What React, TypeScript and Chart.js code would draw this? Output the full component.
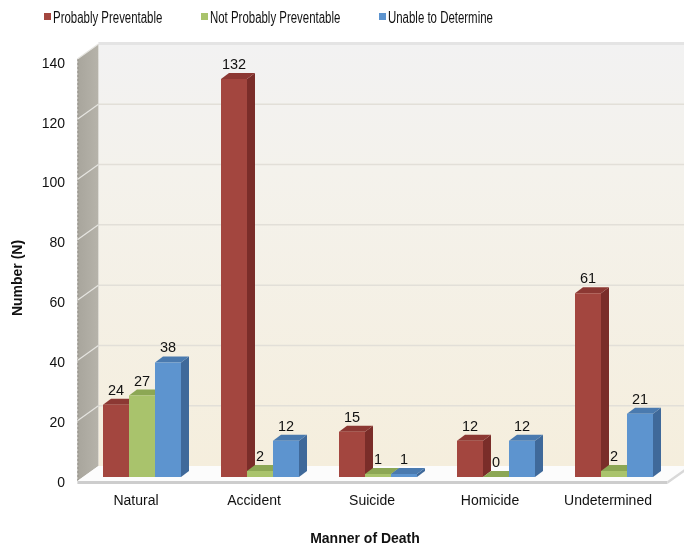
import React, { useEffect, useRef } from "react";
import { Chart, registerables } from "chart.js";

Chart.register(...registerables);

// Manner of death categories and counts per preventability group
const categories = ["Natural", "Accident", "Suicide", "Homicide", "Undetermined"];
const probablyPreventable = [24, 132, 15, 12, 61];
const notProbablyPreventable = [27, 2, 1, 0, 2];
const unableToDetermine = [38, 12, 1, 12, 21];
const yTicks = [0, 20, 40, 60, 80, 100, 120, 140];
const seriesNames = ["Probably Preventable", "Not Probably Preventable", "Unable to Determine"];

const FONT = '"Liberation Sans", Arial, sans-serif';

// face colours: front, side, top
const palette = [
  { front: "#a3463f", side: "#7a2d29", top: "#8c3833" },
  { front: "#a9c36c", side: "#86a04b", top: "#8ca754" },
  { front: "#5d94cf", side: "#3f699a", top: "#4a7aaf" },
];

// projection offsets relative to the plane where bar fronts sit
const DEPTH = { dx: 8, dy: -6 };
const FRONT = { dx: -5.6, dy: 4 };
const BACK = { dx: 15.4, dy: -11 };

const poly = (ctx: CanvasRenderingContext2D, pts: number[][], fill: string | CanvasGradient) => {
  ctx.beginPath();
  ctx.moveTo(pts[0][0], pts[0][1]);
  for (let i = 1; i < pts.length; i++) ctx.lineTo(pts[i][0], pts[i][1]);
  ctx.closePath();
  ctx.fillStyle = fill;
  ctx.fill();
};

const scene3d = {
  id: "scene3d",
  beforeDatasetsDraw(chart: any) {
    const ctx: CanvasRenderingContext2D = chart.ctx;
    const area = chart.chartArea;
    const yS = chart.scales.y;
    const W = chart.width;
    const yTop = yS.getPixelForValue(140);
    const y0 = yS.getPixelForValue(0);
    const L = area.left;
    const R = area.right;

    ctx.save();

    // back wall
    const bwTop = yTop + BACK.dy;
    const bwBot = y0 + BACK.dy;
    const g = ctx.createLinearGradient(0, bwTop, 0, bwBot);
    g.addColorStop(0, "#f2f2f2");
    g.addColorStop(0.3, "#f4f2ec");
    g.addColorStop(1, "#f5eedd");
    poly(ctx, [[L + BACK.dx, bwTop], [W, bwTop], [W, bwBot], [L + BACK.dx, bwBot]], g);

    // top rim of back wall
    ctx.fillStyle = "#e4e4e4";
    ctx.fillRect(L + BACK.dx, bwTop - 2, W - L - BACK.dx, 3);

    // back wall gridlines
    ctx.strokeStyle = "#e2dfd8";
    ctx.lineWidth = 1.5;
    for (const v of yTicks) {
      if (v === 0 || v === 140) continue;
      const y = yS.getPixelForValue(v) + BACK.dy;
      ctx.beginPath();
      ctx.moveTo(L + BACK.dx, y);
      ctx.lineTo(W, y);
      ctx.stroke();
    }

    // left side wall
    const sg = ctx.createLinearGradient(L + FRONT.dx, 0, L + BACK.dx, 0);
    sg.addColorStop(0, "#a8a59c");
    sg.addColorStop(1, "#b6b3aa");
    poly(ctx, [
      [L + FRONT.dx, yTop + FRONT.dy],
      [L + BACK.dx, yTop + BACK.dy],
      [L + BACK.dx, y0 + BACK.dy],
      [L + FRONT.dx, y0 + FRONT.dy],
    ], sg);
    ctx.strokeStyle = "#94918a";
    ctx.lineWidth = 1;
    ctx.setLineDash([2, 2]);
    ctx.beginPath();
    ctx.moveTo(L + FRONT.dx + 0.5, yTop + FRONT.dy);
    ctx.lineTo(L + FRONT.dx + 0.5, y0 + FRONT.dy);
    ctx.stroke();
    ctx.setLineDash([]);

    // side wall diagonals
    ctx.strokeStyle = "#e6e5e1";
    ctx.lineWidth = 1.2;
    for (const v of yTicks) {
      if (v === 0) continue;
      const y = yS.getPixelForValue(v);
      ctx.beginPath();
      ctx.moveTo(L + FRONT.dx, y + FRONT.dy);
      ctx.lineTo(L + BACK.dx, y + BACK.dy);
      ctx.stroke();
    }

    // floor slab
    poly(ctx, [
      [L + FRONT.dx, y0 + FRONT.dy],
      [R + FRONT.dx, y0 + FRONT.dy],
      [R + BACK.dx, y0 + BACK.dy],
      [L + BACK.dx, y0 + BACK.dy],
    ], "#fcfcfc");
    poly(ctx, [
      [L + FRONT.dx, y0 + FRONT.dy],
      [R + FRONT.dx, y0 + FRONT.dy],
      [R + FRONT.dx, y0 + FRONT.dy + 3],
      [L + FRONT.dx, y0 + FRONT.dy + 3],
    ], "#cdcdcd");
    poly(ctx, [
      [R + FRONT.dx, y0 + FRONT.dy],
      [R + BACK.dx, y0 + BACK.dy],
      [R + BACK.dx, y0 + BACK.dy + 3],
      [R + FRONT.dx, y0 + FRONT.dy + 3],
    ], "#d8d8d8");

    // y tick labels
    ctx.fillStyle = "#111";
    ctx.font = `14px ${FONT}`;
    ctx.textAlign = "right";
    ctx.textBaseline = "middle";
    for (const v of yTicks) {
      ctx.fillText(String(v), 65, yS.getPixelForValue(v) + 6 + v / 50);
    }

    // category labels
    const xS = chart.scales.x;
    ctx.textAlign = "center";
    categories.forEach((c, i) => {
      ctx.fillText(c, xS.getPixelForValue(i) - 6, 501);
    });

    // axis titles
    ctx.font = `bold 14px ${FONT}`;
    ctx.fillText("Manner of Death", 365, 539);
    ctx.save();
    ctx.translate(18, 278);
    ctx.rotate(-Math.PI / 2);
    ctx.fillText("Number (N)", 0, 0);
    ctx.restore();

    // legend
    const legendX = [44, 201, 379];
    ctx.textAlign = "left";
    ctx.font = `16px ${FONT}`;
    seriesNames.forEach((name, i) => {
      ctx.fillStyle = palette[i].front;
      ctx.fillRect(legendX[i], 13, 7, 7);
      ctx.fillStyle = "#111";
      ctx.save();
      ctx.translate(legendX[i] + 9, 19);
      ctx.scale(0.715, 1);
      ctx.fillText(name, 0, 0);
      ctx.restore();
    });

    // side and top faces of each bar, left to right
    const metas = [0, 1, 2].map((d) => chart.getDatasetMeta(d));
    for (let i = 0; i < categories.length; i++) {
      metas.forEach((meta: any, d: number) => {
        const bar = meta.data[i];
        const x0 = bar.x - bar.width / 2;
        const x1 = bar.x + bar.width / 2;
        const top = bar.y;
        const base = bar.base;
        poly(ctx, [
          [x1, top],
          [x1 + DEPTH.dx, top + DEPTH.dy],
          [x1 + DEPTH.dx, base + DEPTH.dy],
          [x1, base],
        ], palette[d].side);
        poly(ctx, [
          [x0, top],
          [x1, top],
          [x1 + DEPTH.dx, top + DEPTH.dy],
          [x0 + DEPTH.dx, top + DEPTH.dy],
        ], palette[d].top);
      });
    }

    ctx.restore();
  },
  afterDatasetsDraw(chart: any) {
    const ctx: CanvasRenderingContext2D = chart.ctx;
    ctx.save();
    ctx.fillStyle = "#111";
    ctx.font = `14.5px ${FONT}`;
    ctx.textAlign = "center";
    ctx.textBaseline = "alphabetic";
    chart.data.datasets.forEach((ds: any, d: number) => {
      const meta = chart.getDatasetMeta(d);
      meta.data.forEach((bar: any, i: number) => {
        ctx.fillText(String(ds.data[i]), bar.x, bar.y - 10);
      });
    });
    ctx.restore();
  },
};

export default function App() {
  const ref = useRef<HTMLCanvasElement>(null);

  useEffect(() => {
    if (!ref.current) return;
    const chart = new Chart(ref.current, {
      type: "bar",
      data: {
        labels: categories,
        datasets: [
          { label: seriesNames[0], data: probablyPreventable, backgroundColor: palette[0].front },
          { label: seriesNames[1], data: notProbablyPreventable, backgroundColor: palette[1].front },
          { label: seriesNames[2], data: unableToDetermine, backgroundColor: palette[2].front },
        ].map((ds) => ({ ...ds, borderWidth: 0, categoryPercentage: 0.661, barPercentage: 1 })),
      },
      options: {
        responsive: false,
        animation: false,
        devicePixelRatio: 1,
        layout: { padding: { left: 83, right: 11, top: 55, bottom: 69 } },
        plugins: { legend: { display: false }, tooltip: { enabled: false } },
        scales: {
          x: { display: false },
          y: { display: false, min: 0, max: 140 },
        },
      },
      plugins: [scene3d],
    });
    return () => chart.destroy();
  }, []);

  return (
    <div style={{ position: "fixed", left: 0, top: 0, width: 684, height: 546, background: "#fff" }}>
      <canvas ref={ref} width={684} height={546} style={{ display: "block" }} />
    </div>
  );
}
